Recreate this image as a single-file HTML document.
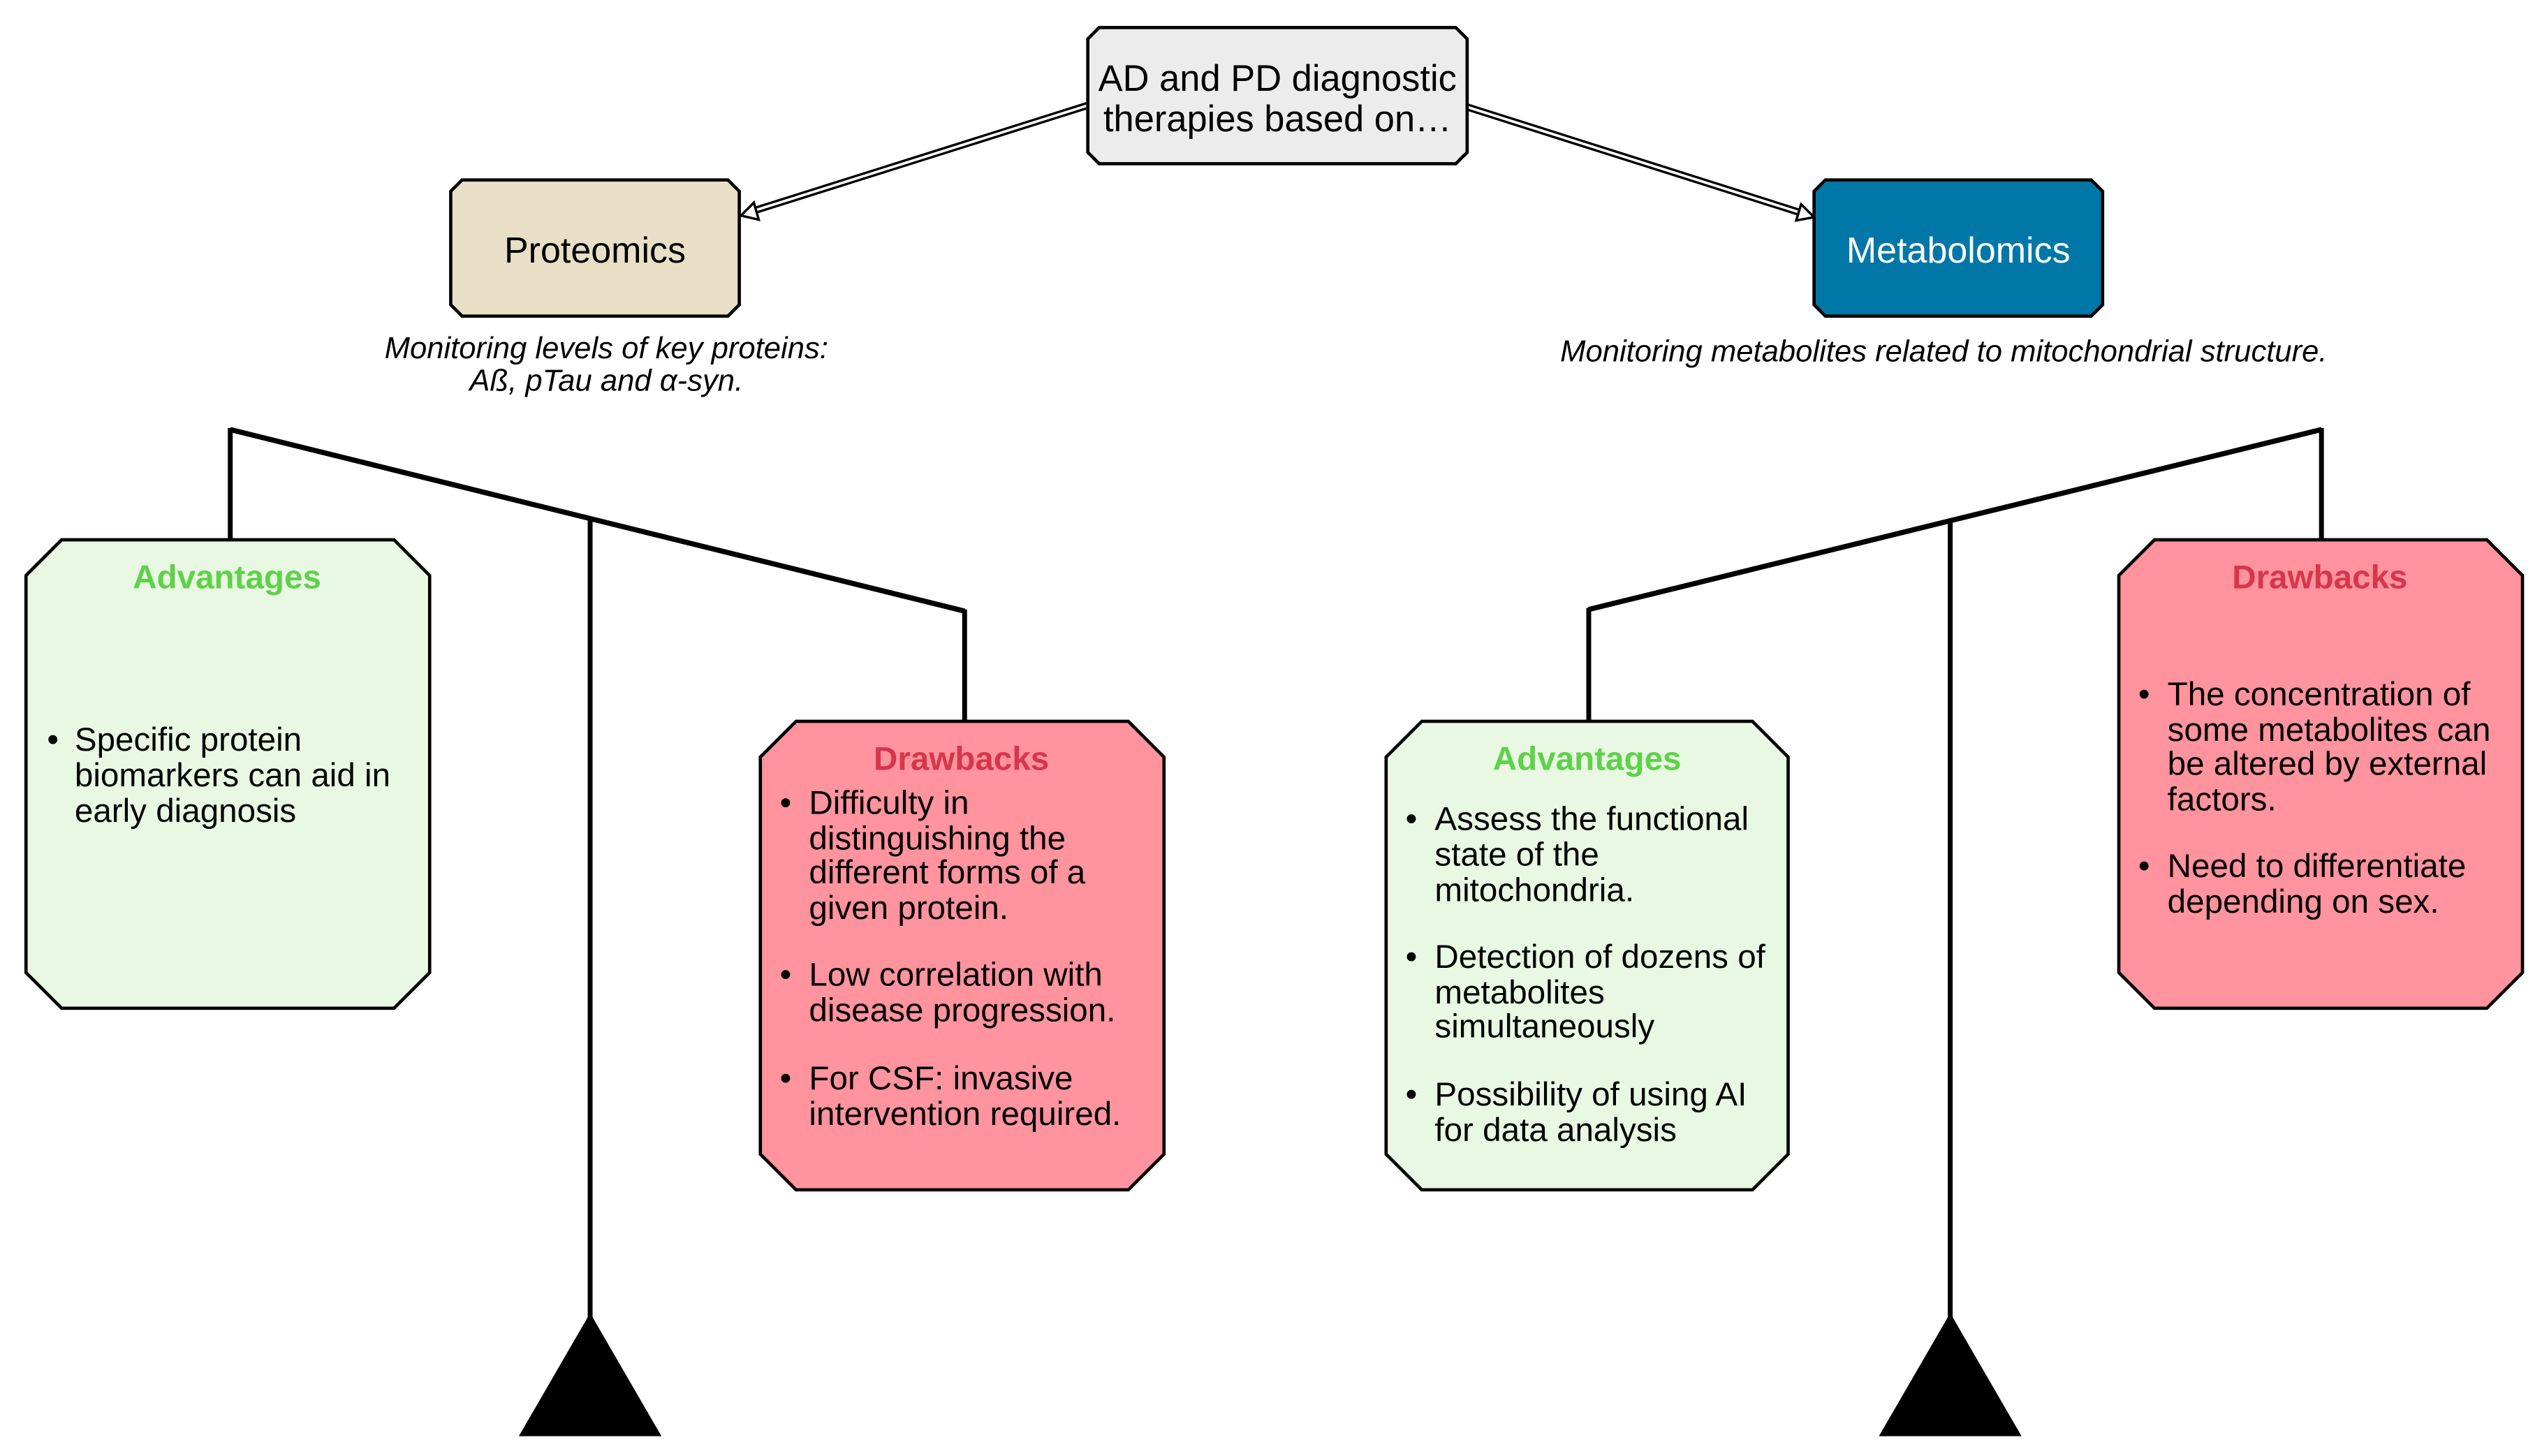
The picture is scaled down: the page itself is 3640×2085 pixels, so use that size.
<!DOCTYPE html>
<html><head><meta charset="utf-8"><style>
html,body{margin:0;padding:0;background:#fff;}
svg{display:block;}
text{font-family:"Liberation Sans",Arial,sans-serif;}
</style></head><body>
<svg width="3640" height="2085" viewBox="0 0 1568 898.2" xmlns="http://www.w3.org/2000/svg">
<rect x="0" y="0" width="1568" height="899" fill="#fff"/>
<g>
<line x1="671" y1="65" x2="465" y2="130" stroke="#000" stroke-width="4.5"/>
<line x1="671" y1="65" x2="465" y2="130" stroke="#fff" stroke-width="1.6"/>
<polygon points="457,133 468,135.5 465,125" fill="#fff" stroke="#000" stroke-width="1.5"/>
<line x1="905" y1="66" x2="1110" y2="131" stroke="#000" stroke-width="4.5"/>
<line x1="905" y1="66" x2="1110" y2="131" stroke="#fff" stroke-width="1.6"/>
<polygon points="1119,134 1108,136 1111,126" fill="#fff" stroke="#000" stroke-width="1.5"/>
</g>
<polygon points="678,17 898,17 905,24 905,94 898,101 678,101 671,94 671,24" fill="#ececec" stroke="#000" stroke-width="2"/>
<text x="788" y="56" font-size="22.6" text-anchor="middle">AD and PD diagnostic</text>
<text x="788" y="81" font-size="22.6" text-anchor="middle">therapies based on…</text>
<polygon points="285,111 449,111 456,118 456,188 449,195 285,195 278,188 278,118" fill="#e8dfc6" stroke="#000" stroke-width="2"/>
<text x="367" y="162" font-size="22.4" text-anchor="middle">Proteomics</text>
<polygon points="1126,111 1290,111 1297,118 1297,188 1290,195 1126,195 1119,188 1119,118" fill="#0077a7" stroke="#000" stroke-width="2"/>
<text x="1208" y="162" font-size="22.4" text-anchor="middle" fill="#fff">Metabolomics</text>
<text x="374" y="221" font-size="18.8" font-style="italic" text-anchor="middle">Monitoring levels of key proteins:</text>
<text x="374" y="241" font-size="18.8" font-style="italic" text-anchor="middle">Aß, pTau and α-syn.</text>
<text x="1199" y="223" font-size="18.8" font-style="italic" text-anchor="middle">Monitoring metabolites related to mitochondrial structure.</text>
<g stroke="#000" fill="none">
<line x1="142" y1="265" x2="595" y2="377" stroke-width="3.2"/>
<line x1="142" y1="264" x2="142" y2="333" stroke-width="3"/>
<line x1="595" y1="376" x2="595" y2="445" stroke-width="3"/>
<line x1="364" y1="321" x2="364" y2="815" stroke-width="3"/>
<line x1="980" y1="376" x2="1432" y2="265" stroke-width="3.2"/>
<line x1="980" y1="375" x2="980" y2="445" stroke-width="3"/>
<line x1="1432" y1="264" x2="1432" y2="333" stroke-width="3"/>
<line x1="1203" y1="321" x2="1203" y2="815" stroke-width="3"/>
</g>
<polygon points="320,886 408,886 364,810" fill="#000"/>
<polygon points="1159,886 1247,886 1203,810" fill="#000"/>
<polygon points="38,333 243,333 265,355 265,600 243,622 38,622 16,600 16,355" fill="#e8f8e2" stroke="#000" stroke-width="2"/>
<text x="140" y="363" font-size="20.5" font-weight="bold" fill="#5ed14a" text-anchor="middle">Advantages</text>
<g font-size="20.5">
<text x="29" y="463">•</text>
<text x="46" y="463">Specific protein</text>
<text x="46" y="485">biomarkers can aid in</text>
<text x="46" y="507">early diagnosis</text>
</g>
<polygon points="491,445 696,445 718,467 718,712 696,734 491,734 469,712 469,467" fill="#ff939e" stroke="#000" stroke-width="2"/>
<text x="593" y="475" font-size="20.5" font-weight="bold" fill="#d6364c" text-anchor="middle">Drawbacks</text>
<g font-size="20.5">
<text x="481" y="502">•</text>
<text x="499" y="502">Difficulty in</text>
<text x="499" y="524">distinguishing the</text>
<text x="499" y="545">different forms of a</text>
<text x="499" y="567">given protein.</text>
<text x="481" y="608">•</text>
<text x="499" y="608">Low correlation with</text>
<text x="499" y="630">disease progression.</text>
<text x="481" y="672">•</text>
<text x="499" y="672">For CSF: invasive</text>
<text x="499" y="694">intervention required.</text>
</g>
<polygon points="877,445 1081,445 1103,467 1103,712 1081,734 877,734 855,712 855,467" fill="#e8f8e2" stroke="#000" stroke-width="2"/>
<text x="979" y="475" font-size="20.5" font-weight="bold" fill="#5ed14a" text-anchor="middle">Advantages</text>
<g font-size="20.5">
<text x="867" y="512">•</text>
<text x="885" y="512">Assess the functional</text>
<text x="885" y="534">state of the</text>
<text x="885" y="556">mitochondria.</text>
<text x="867" y="597">•</text>
<text x="885" y="597">Detection of dozens of</text>
<text x="885" y="619">metabolites</text>
<text x="885" y="640">simultaneously</text>
<text x="867" y="682">•</text>
<text x="885" y="682">Possibility of using AI</text>
<text x="885" y="704">for data analysis</text>
</g>
<polygon points="1329,333 1534,333 1556,355 1556,600 1534,622 1329,622 1307,600 1307,355" fill="#ff939e" stroke="#000" stroke-width="2"/>
<text x="1431" y="363" font-size="20.5" font-weight="bold" fill="#d6364c" text-anchor="middle">Drawbacks</text>
<g font-size="20.5">
<text x="1319" y="435">•</text>
<text x="1337" y="435">The concentration of</text>
<text x="1337" y="457">some metabolites can</text>
<text x="1337" y="478">be altered by external</text>
<text x="1337" y="500">factors.</text>
<text x="1319" y="541">•</text>
<text x="1337" y="541">Need to differentiate</text>
<text x="1337" y="563">depending on sex.</text>
</g>
</svg>
</body></html>
